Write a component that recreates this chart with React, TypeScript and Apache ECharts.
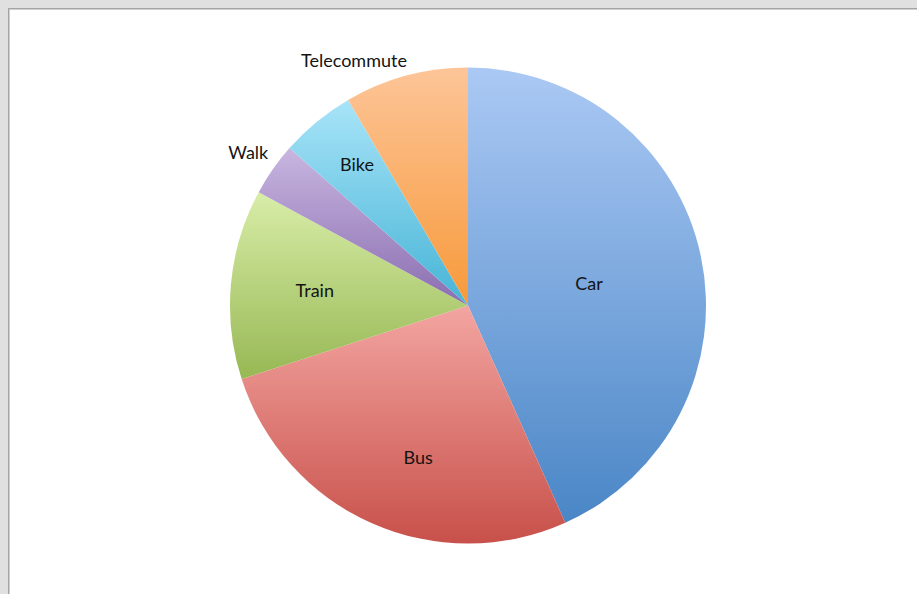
import React, { useEffect, useRef } from "react";
import * as echarts from "echarts";

const categories = ["Car", "Bus", "Train", "Walk", "Bike", "Telecommute"];
const values = [43.3, 26.7, 12.9, 3.6, 5.1, 8.4];

const topColors = ["#abc9f4", "#f3a5a1", "#d8eda8", "#c8b6e0", "#a8e4f8", "#fdc598"];
const bottomColors = ["#4a86c6", "#c8504a", "#97b854", "#8a6db0", "#46b4d6", "#f7993a"];

// label placement: [angle offset from slice middle (deg), radius fraction]
const labelPlacement: number[][] = [
  [1.6, 0.517],
  [-5.7, 0.67],
  [0.5, 0.647],
  [0, 1.126],
  [1.4, 0.757],
  [-9.8, 1.137],
];

const CX = 468;
const CY = 305.5;
const R = 238;

export default function App() {
  const ref = useRef<HTMLDivElement>(null);
  useEffect(() => {
    const chart = echarts.init(ref.current!, null, { renderer: "svg" });
    const total = values.reduce((a, b) => a + b, 0);
    const mids: number[] = [];
    let acc = 0;
    values.forEach((v) => {
      mids.push(((acc + v / 2) / total) * 360);
      acc += v;
    });
    chart.setOption({
      animation: false,
      series: [
        {
          type: "pie",
          center: [CX, CY],
          radius: R,
          startAngle: 90,
          clockwise: true,
          avoidLabelOverlap: false,
          emphasis: { disabled: true },
          label: {
            show: true,
            position: "inside",
            formatter: "{b}",
            color: "#141414",
            fontFamily: "Lato",
            fontSize: 18,
          },
          labelLine: { show: false },
          labelLayout: (p: any) => {
            const i = p.dataIndex;
            const [off, frac] = labelPlacement[i];
            const a = ((mids[i] + off) * Math.PI) / 180;
            return {
              x: CX + frac * R * Math.sin(a),
              y: CY - frac * R * Math.cos(a),
              align: "center",
              verticalAlign: "middle",
            };
          },
          data: categories.map((name, i) => ({
            name,
            value: values[i],
            itemStyle: {
              color: {
                type: "linear",
                x: 0,
                y: 0,
                x2: 0,
                y2: 1,
                colorStops: [
                  { offset: 0, color: topColors[i] },
                  { offset: 1, color: bottomColors[i] },
                ],
              },
            },
          })),
        },
      ],
    });
    return () => chart.dispose();
  }, []);

  return (
    <div style={{ position: "fixed", left: 0, top: 0, width: 917, height: 594, background: "#e0e0e0", overflow: "hidden" }}>
      <div
        style={{
          position: "absolute",
          left: 8,
          top: 8,
          width: 930,
          height: 600,
          borderTop: "1px solid #a4a4a4",
          borderLeft: "1px solid #a4a4a4",
          background: "#fff",
        }}
      >
        <div style={{ width: "100%", height: "100%", borderTop: "1px solid #d0d0d0", borderLeft: "1px solid #d0d0d0", boxSizing: "border-box" }} />
      </div>
      <div ref={ref} style={{ position: "absolute", left: 0, top: 0, width: 917, height: 594 }} />
    </div>
  );
}
